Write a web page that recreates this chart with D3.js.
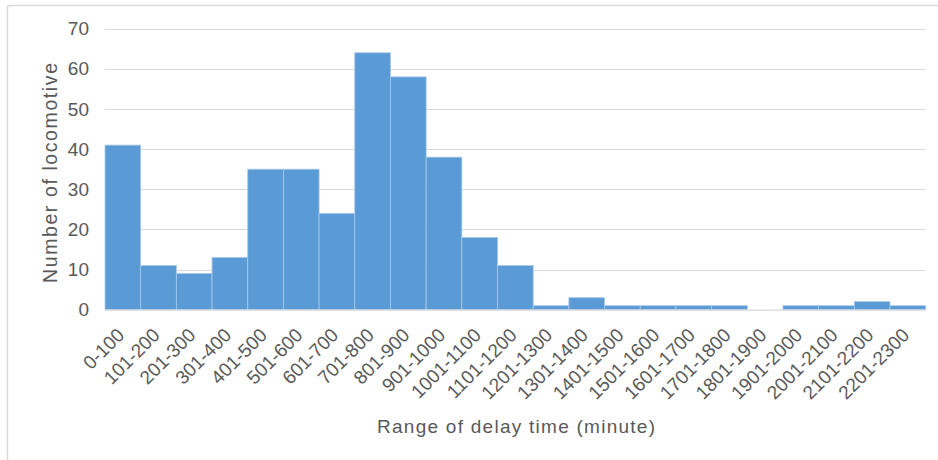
<!DOCTYPE html>
<html>
<head>
<meta charset="utf-8">
<script src="https://cdn.jsdelivr.net/npm/d3@7"></script>
<style>
  html, body { margin: 0; padding: 0; background: #fff; }
  svg { display: block; }
  text { font-family: "Liberation Sans", Arial, sans-serif; fill: #595959; }
</style>
</head>
<body>
<svg id="chart" width="938" height="460"></svg>
<script>
const categories = ["0-100","101-200","201-300","301-400","401-500","501-600","601-700","701-800","801-900","901-1000","1001-1100","1101-1200","1201-1300","1301-1400","1401-1500","1501-1600","1601-1700","1701-1800","1801-1900","1901-2000","2001-2100","2101-2200","2201-2300"];
const counts = [41, 11, 9, 13, 35, 35, 24, 64, 58, 38, 18, 11, 1, 3, 1, 1, 1, 1, 0, 1, 1, 2, 1];
const yTicks = [0, 10, 20, 30, 40, 50, 60, 70];
const yTitle = "Number  of locomotive";
const xTitle = "Range of delay time (minute)";

const W = 938, H = 460;
const m = { left: 105, right: 938 - 925.7, top: 28.7, bottom: 460 - 309.7 };
const FONT = '"Liberation Sans", Arial, sans-serif';
const svg = d3.select("#chart");

// chart frame
svg.append("rect")
  .attr("x", 7.5).attr("y", 5.5)
  .attr("width", 1000).attr("height", 1000)
  .attr("rx", 2)
  .attr("fill", "none").attr("stroke", "#d9d9d9").attr("stroke-width", 1.5);

const x = d3.scaleBand().domain(categories).range([m.left, W - m.right]).padding(0);
const y = d3.scaleLinear().domain([0, 70]).range([H - m.bottom, m.top]);

// gridlines
svg.append("g")
  .selectAll("line").data(yTicks.filter(d => d > 0)).join("line")
  .attr("x1", m.left).attr("x2", W - m.right)
  .attr("y1", d => Math.round(y(d)) + 0.5).attr("y2", d => Math.round(y(d)) + 0.5)
  .attr("stroke", "#d9d9d9").attr("stroke-width", 1);

// y axis labels
const yAxis = d3.axisLeft(y).tickValues(yTicks).tickSize(0).tickPadding(0);
const gy = svg.append("g").attr("transform", `translate(${m.left - 16},0)`).call(yAxis);
gy.select(".domain").remove();
gy.selectAll("text").attr("font-size", 19).attr("font-family", FONT).attr("fill", "#595959");

// bars
svg.append("g")
  .selectAll("rect").data(counts).join("rect")
  .attr("x", (d, i) => x(categories[i]))
  .attr("width", x.bandwidth())
  .attr("y", d => y(d))
  .attr("height", d => y(0) - y(d))
  .attr("fill", "#5b9bd5")
  .attr("stroke", "#a8c8ea")
  .attr("stroke-width", d => d > 0 ? 0.8 : 0);

// baseline
svg.append("line")
  .attr("x1", m.left).attr("x2", W - m.right)
  .attr("y1", y(0) + 0.5).attr("y2", y(0) + 0.5)
  .attr("stroke", "#d9d9d9").attr("stroke-width", 1.2);

// x axis labels
const xAxis = d3.axisBottom(x).tickSize(0).tickPadding(0);
const gx = svg.append("g").attr("transform", `translate(0,${y(0)})`).call(xAxis);
gx.select(".domain").remove();
gx.selectAll("text")
  .attr("font-size", 19)
  .attr("font-family", FONT)
  .attr("fill", "#595959")
  .attr("text-anchor", "end")
  .attr("dy", null).attr("y", 0)
  .attr("transform", "translate(-1,23) rotate(-45)")
  .attr("dominant-baseline", "middle");

// axis titles
svg.append("text")
  .attr("transform", `translate(57,173) rotate(-90)`)
  .attr("text-anchor", "middle")
  .attr("font-size", 19.5)
  .attr("textLength", 220)
  .attr("lengthAdjust", "spacing")
  .text(yTitle);

svg.append("text")
  .attr("x", (377 + 655) / 2).attr("y", 433)
  .attr("text-anchor", "middle")
  .attr("font-size", 19)
  .attr("textLength", 278)
  .attr("lengthAdjust", "spacing")
  .text(xTitle);
</script>
</body>
</html>
